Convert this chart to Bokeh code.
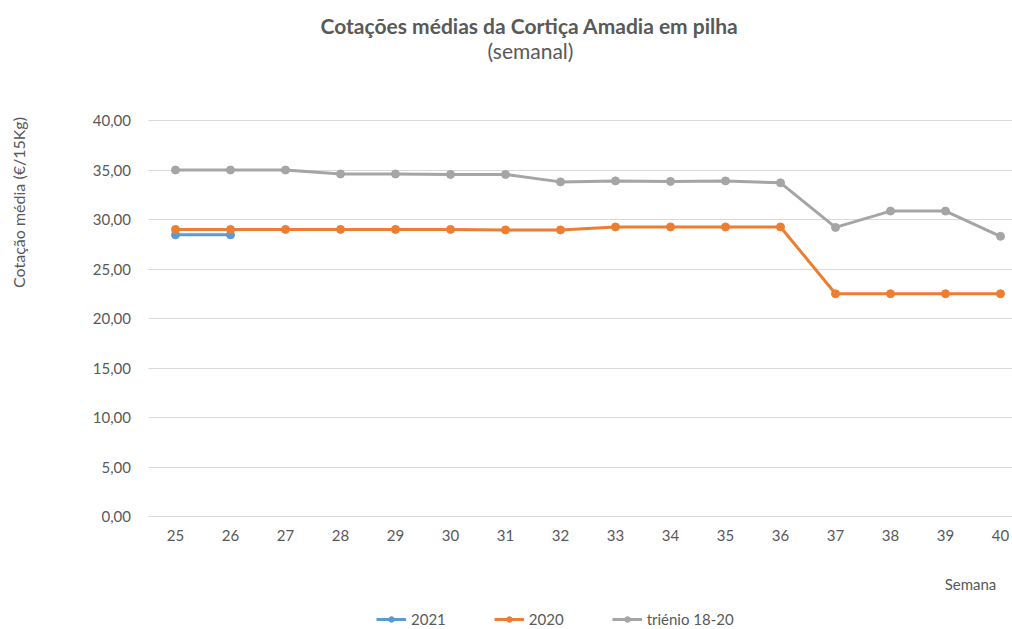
from bokeh.plotting import figure
from bokeh.models import (FixedTicker, Label, Legend, LegendItem, Range1d,
                          LinearAxis, Grid)
from bokeh.embed import file_html
from bokeh.resources import INLINE

semanas = list(range(25, 41))
y_ticks = [0, 5, 10, 15, 20, 25, 30, 35, 40]
y_tick_labels = ["0,00", "5,00", "10,00", "15,00", "20,00", "25,00", "30,00", "35,00", "40,00"]

semanas_2021 = [25, 26]
serie_2021 = [28.45, 28.45]
serie_2020 = [29.0, 29.0, 29.0, 29.0, 29.0, 29.0, 28.95, 28.95,
              29.25, 29.25, 29.25, 29.25, 22.5, 22.5, 22.5, 22.5]
serie_trienio = [35.0, 35.0, 35.0, 34.6, 34.6, 34.55, 34.55, 33.8,
                 33.9, 33.85, 33.9, 33.7, 29.2, 30.85, 30.85, 28.3]

FONT = "Lato"
TXT = "#595959"
C2021 = "#5B9BD5"
C2020 = "#ED7D31"
CTRI = "#A5A5A5"
GRID = "#D9D9D9"

W, H = 1012, 629
PX_X = 55.0          # pixels per week
PX_Y = 9.9           # pixels per unit
X25_PX = 175.0       # pixel column of week 25
Y0_PX = 516.0        # pixel row of value 0
x_start = 25 - X25_PX / PX_X
x_end = x_start + W / PX_X
y_start = -(H - Y0_PX) / PX_Y
y_end = y_start + H / PX_Y
x_left_edge = 24.5   # plot area left edge (half a category before week 25)

p = figure(width=W, height=H, output_backend="svg", toolbar_location=None,
           x_range=Range1d(x_start, x_end), y_range=Range1d(y_start, y_end),
           x_axis_location=None, y_axis_location=None, min_border=0)
p.outline_line_color = None
p.background_fill_color = "white"
p.border_fill_color = "white"
p.xgrid.visible = False
p.ygrid.visible = False

yticker = FixedTicker(ticks=y_ticks)
grid = Grid(dimension=1, ticker=yticker, grid_line_color=GRID, grid_line_width=1)
if "cross_bounds" in Grid.properties():
    grid.cross_bounds = (x_left_edge, x_end)
p.add_layout(grid)

xaxis = LinearAxis(fixed_location=0, ticker=FixedTicker(ticks=semanas),
                   bounds=(x_left_edge, x_end))
xaxis.axis_line_color = GRID
xaxis.major_tick_line_color = None
xaxis.minor_tick_line_color = None
xaxis.major_tick_out = 0
xaxis.major_tick_in = 0
xaxis.major_label_standoff = 13
xaxis.major_label_text_font = FONT
xaxis.major_label_text_font_size = "15px"
xaxis.major_label_text_color = TXT
p.add_layout(xaxis, "below")

yaxis = LinearAxis(fixed_location=x_left_edge, ticker=yticker)
yaxis.major_label_overrides = {t: l for t, l in zip(y_ticks, y_tick_labels)}
yaxis.axis_line_color = None
yaxis.major_tick_line_color = None
yaxis.minor_tick_line_color = None
yaxis.major_tick_out = 0
yaxis.major_tick_in = 0
yaxis.major_label_standoff = 17
yaxis.major_label_text_font = FONT
yaxis.major_label_text_font_size = "15px"
yaxis.major_label_text_color = TXT
p.add_layout(yaxis, "left")

# series
r_l21 = p.line(semanas_2021, serie_2021, line_color=C2021, line_width=3)
r_m21 = p.scatter(semanas_2021, serie_2021, size=8, fill_color=C2021, line_color=C2021)
r_l20 = p.line(semanas, serie_2020, line_color=C2020, line_width=3)
r_m20 = p.scatter(semanas, serie_2020, size=8, fill_color=C2020, line_color=C2020)
r_lt = p.line(semanas, serie_trienio, line_color=CTRI, line_width=3)
r_mt = p.scatter(semanas, serie_trienio, size=8, fill_color=CTRI, line_color=CTRI)

def sy(py):
    return H - py

LEG_H = 14
legend = Legend(items=[
    LegendItem(label="2021", renderers=[r_l21, r_m21]),
    LegendItem(label="2020", renderers=[r_l20, r_m20]),
    LegendItem(label="triénio 18-20", renderers=[r_lt, r_mt]),
], orientation="horizontal", location=(376, sy(621) - LEG_H / 2))
legend.padding = 0
legend.margin = 0
legend.spacing = 48
legend.glyph_width = 30
legend.glyph_height = LEG_H
legend.label_height = LEG_H
legend.label_standoff = 5
legend.border_line_color = None
legend.background_fill_alpha = 0
legend.label_text_font = FONT
legend.label_text_font_size = "15px"
legend.label_text_color = TXT
p.add_layout(legend, "center")

p.add_layout(Label(x=529, y=sy(25), x_units="screen", y_units="screen",
                   text="Cotações médias da Cortiça Amadia em pilha",
                   text_align="center", text_baseline="middle",
                   text_font=FONT, text_font_style="bold", text_font_size="21px",
                   text_color=TXT))
p.add_layout(Label(x=530, y=sy(50), x_units="screen", y_units="screen",
                   text="(semanal)", text_align="center", text_baseline="middle",
                   text_font=FONT, text_font_size="21px", text_color=TXT))
p.add_layout(Label(x=18, y=sy(202), x_units="screen", y_units="screen",
                   text="Cotação média (€/15Kg)", angle=1.5708,
                   text_align="center", text_baseline="middle",
                   text_font=FONT, text_font_size="16px", text_color=TXT))
p.add_layout(Label(x=970, y=sy(583), x_units="screen", y_units="screen",
                   text="Semana", text_align="center", text_baseline="middle",
                   text_font=FONT, text_font_size="15px", text_color=TXT))

open("out.html", "w").write(file_html(p, INLINE))
